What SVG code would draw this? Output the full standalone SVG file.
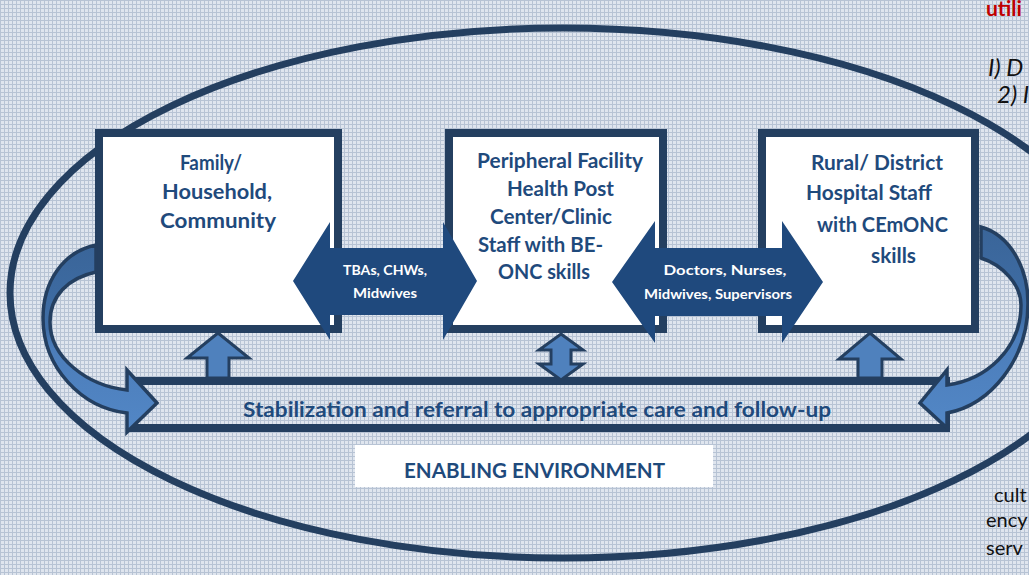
<svg xmlns="http://www.w3.org/2000/svg" width="1029" height="575" viewBox="0 0 1029 575">
<style>
.bx{fill:#fff;stroke:#243f60;stroke-width:8}
.bt{font-family:Lato,"Liberation Sans",sans-serif;font-weight:700;font-size:21px;fill:#1f4a7c;text-anchor:middle}
.at{font-family:Lato,"Liberation Sans",sans-serif;font-weight:700;font-size:14px;fill:#fff;text-anchor:middle}
.dark{fill:#1f497d}
.light{fill:#4f81bd;stroke:#243f60;stroke-width:3;stroke-linejoin:miter}
.curve{fill:url(#cg);stroke:#243f60;stroke-width:3.5;stroke-linejoin:miter}
.side{font-family:Lato,"Liberation Sans",sans-serif;fill:#111}
</style>
<defs>
<pattern id="bg" width="4" height="4" patternUnits="userSpaceOnUse">
<rect width="4" height="4" fill="#dfe5ee"/>
<rect width="4" height="1" fill="#b7c3d4"/>
<rect width="1" height="4" fill="#b7c3d4"/>
</pattern>
<linearGradient id="cg" x1="0" y1="0" x2="0" y2="1">
<stop offset="0" stop-color="#3a6599"/>
<stop offset="0.45" stop-color="#3f6ea6"/>
<stop offset="0.55" stop-color="#4c7dba"/>
<stop offset="1" stop-color="#5287c6"/>
</linearGradient>
</defs>
<rect width="1029" height="575" fill="url(#bg)"/>

<g id="enabling-environment-ellipse">
<ellipse cx="563" cy="293" rx="553" ry="265" fill="none" stroke="#243f60" stroke-width="7"/>
</g>

<g id="side-text">
<text x="986" y="16" class="side" font-weight="700" font-size="21" style="fill:#c00000">utili</text>
<text x="988" y="76" class="side" font-style="italic" font-size="24">I) D</text>
<text x="997" y="103" class="side" font-style="italic" font-size="24">2) I</text>
<text x="994" y="502" class="side" font-size="20">cult</text>
<text x="986" y="527" class="side" font-size="20">ency</text>
<text x="986" y="555" class="side" font-size="20">serv</text>
</g>

<g id="node-family">
<rect class="bx" x="99" y="133" width="239" height="196"/>
<text class="bt" x="211" y="170" textLength="62" lengthAdjust="spacingAndGlyphs">Family/</text>
<text class="bt" x="217" y="199" textLength="110" lengthAdjust="spacingAndGlyphs">Household,</text>
<text class="bt" x="218" y="228" textLength="116" lengthAdjust="spacingAndGlyphs">Community</text>
</g>

<g id="node-peripheral">
<rect class="bx" x="449" y="133" width="214" height="196"/>
<text class="bt" x="560" y="168" textLength="166" lengthAdjust="spacingAndGlyphs">Peripheral Facility</text>
<text class="bt" x="560.5" y="196" textLength="107" lengthAdjust="spacingAndGlyphs">Health Post</text>
<text class="bt" x="551" y="224" textLength="122" lengthAdjust="spacingAndGlyphs">Center/Clinic</text>
<text class="bt" x="540.5" y="252" textLength="125" lengthAdjust="spacingAndGlyphs">Staff with BE-</text>
<text class="bt" x="544" y="279" textLength="92" lengthAdjust="spacingAndGlyphs">ONC skills</text>
</g>

<g id="node-hospital">
<rect class="bx" x="762" y="133" width="213" height="196"/>
<text class="bt" x="877" y="170" textLength="132" lengthAdjust="spacingAndGlyphs">Rural/ District</text>
<text class="bt" x="869" y="200" textLength="126" lengthAdjust="spacingAndGlyphs">Hospital Staff</text>
<text class="bt" x="882.5" y="232" textLength="131" lengthAdjust="spacingAndGlyphs">with CEmONC</text>
<text class="bt" x="893.5" y="263" textLength="45" lengthAdjust="spacingAndGlyphs">skills</text>
</g>

<g id="node-stabilization">
<rect x="131" y="381" width="815" height="47" fill="none" stroke="#243f60" stroke-width="8"/>
<text x="243" y="417" textLength="588" lengthAdjust="spacingAndGlyphs" font-family="Lato, 'Liberation Sans', sans-serif" font-weight="700" font-size="21" fill="#1f4a7c">Stabilization and referral to appropriate care and follow-up</text>
</g>

<g id="node-enabling">
<rect x="355" y="445" width="358" height="42" fill="#fff"/>
<text x="404" y="478" textLength="261" lengthAdjust="spacingAndGlyphs" font-family="Lato, 'Liberation Sans', sans-serif" font-weight="700" font-size="21" fill="#1f4a7c">ENABLING ENVIRONMENT</text>
</g>

<g id="connectors">
<polygon class="dark" points="293,281 330,222 330,248 443,248 443,222 477,281 443,340 443,315 330,315 330,340"/>
<text class="at" x="385" y="275" textLength="84" lengthAdjust="spacingAndGlyphs">TBAs, CHWs,</text>
<text class="at" x="385" y="298" textLength="64" lengthAdjust="spacingAndGlyphs">Midwives</text>
<polygon class="dark" points="612,282 655,221 655,248 782,248 782,221 823,282 782,343 782,316 655,316 655,343"/>
<text class="at" x="725" y="275" textLength="123" lengthAdjust="spacingAndGlyphs">Doctors, Nurses,</text>
<text class="at" x="718" y="299" textLength="148" lengthAdjust="spacingAndGlyphs">Midwives, Supervisors</text>
<polygon class="light" points="218,333 249,358 229,358 229,378 207,378 207,358 187,358"/>
<polygon class="light" points="870,333 901,359 882,359 882,378 858,378 858,359 839,359"/>
<polygon class="light" points="561,334 583,350 571,350 571,364 583,364 561,380 539,364 551,364 551,350 539,350"/>
<path class="curve" d="M96 245 C62 252 43 283 43 318 C43 368 82 408 127 413 L127 432 L157 403 L127 370 L127 390 C88 386 50 358 50 322 C50 296 68 278 96 272 Z"/>
<path class="curve" d="M981 227 C1010 235 1028 268 1028 303 C1028 360 990 405 947 413 L947 428 L920 403 L947 370 L947 385 C985 380 1021 350 1021 305 C1021 285 1003 265 981 258 Z"/>
</g>
</svg>
